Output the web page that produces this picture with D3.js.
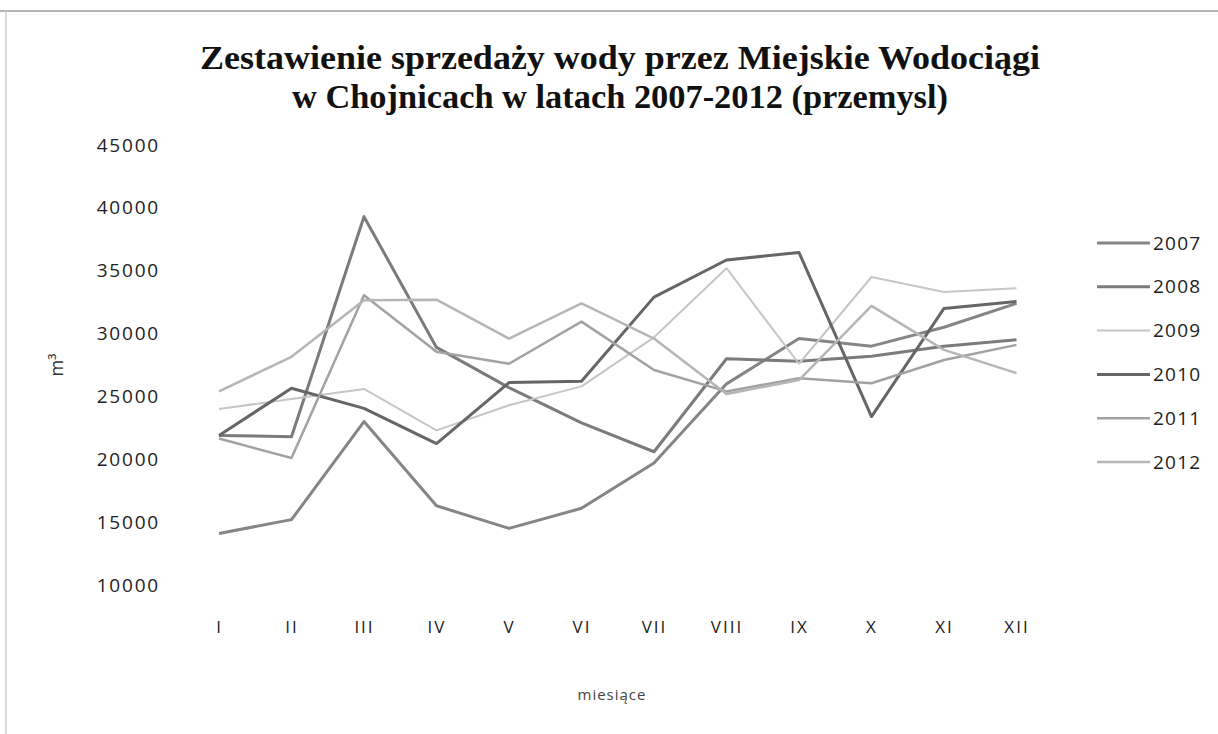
<!DOCTYPE html>
<html>
<head>
<meta charset="utf-8">
<script src="https://cdn.jsdelivr.net/npm/d3@7"></script>
<style>
  body { margin: 0; background: #fff; }
  svg { display: block; }
</style>
</head>
<body>
<svg></svg>
<script>
const WIDTH = 1218;
const HEIGHT = 734;

const months = ["I", "II", "III", "IV", "V", "VI", "VII", "VIII", "IX", "X", "XI", "XII"];
const years = ["2007", "2008", "2009", "2010", "2011", "2012"];
const yTicks = [10000, 15000, 20000, 25000, 30000, 35000, 40000, 45000];

const sales2007 = [14100, 15200, 23000, 16300, 14500, 16100, 19700, 26000, 29600, 29000, 30500, 32400];
const sales2008 = [21900, 21800, 39300, 28900, 25700, 22900, 20600, 28000, 27800, 28200, 29000, 29500];
const sales2009 = [24000, 24800, 25600, 22300, 24300, 25800, 29700, 35200, 27600, 34500, 33300, 33600];
const sales2010 = [21900, 25650, 24050, 21250, 26100, 26200, 32900, 35850, 36450, 23400, 32000, 32550];
const sales2011 = [21650, 20100, 33050, 28550, 27600, 30950, 27100, 25400, 26450, 26050, 27900, 29100];
const sales2012 = [25400, 28150, 32650, 32700, 29600, 32400, 29600, 25200, 26300, 32200, 28700, 26850];

const lineColors = ["#858585", "#7b7b7b", "#c6c6c6", "#666666", "#a2a2a2", "#b6b6b6"];
const lineWidths = [3, 3, 2, 3, 2.5, 2.5];

let xScale, yScale;

function setUpScales() {
  xScale = d3.scalePoint()
    .domain(months)
    .range([182.75, 1052.75])
    .padding(0.5);

  yScale = d3.scaleLinear()
    .domain([10000, 45000])
    .range([585, 145]);
}

function drawFrame($svg) {
  $svg.append("line")
    .attr("x1", 0).attr("x2", WIDTH)
    .attr("y1", 11).attr("y2", 11)
    .attr("stroke", "#b5b5b5")
    .attr("stroke-width", 2);

  $svg.append("line")
    .attr("x1", 6).attr("x2", 6)
    .attr("y1", 11).attr("y2", HEIGHT)
    .attr("stroke", "#cfcfcf")
    .attr("stroke-width", 1.5);
}

function drawTitle($svg) {
  const lines = [
    { text: "Zestawienie sprzedaży wody przez Miejskie Wodociągi", y: 69, len: 840 },
    { text: "w Chojnicach w latach 2007-2012 (przemysl)", y: 108, len: 656 }
  ];

  $svg.selectAll("text.title")
    .data(lines)
    .enter()
    .append("text")
    .attr("class", "title")
    .attr("x", 620)
    .attr("y", d => d.y)
    .attr("text-anchor", "middle")
    .attr("textLength", d => d.len)
    .attr("lengthAdjust", "spacingAndGlyphs")
    .style("font-family", "'Liberation Serif', 'Times New Roman', serif")
    .style("font-weight", "bold")
    .style("font-size", "33px")
    .style("fill", "#111")
    .text(d => d.text);
}

function setUpAxes($svg) {
  const yAxis = d3.axisLeft(yScale)
    .tickValues(yTicks)
    .tickSize(0)
    .tickPadding(0)
    .tickFormat(d3.format("d"));

  const $y = $svg.append("g")
    .attr("transform", "translate(160,0)")
    .call(yAxis);
  $y.select(".domain").remove();
  $y.selectAll("text")
    .style("font-family", "'Open Sans', sans-serif")
    .style("font-size", "19px")
    .style("letter-spacing", "1.8px")
    .style("fill", "#222");

  const xAxis = d3.axisBottom(xScale)
    .tickSize(0)
    .tickPadding(0);

  const $x = $svg.append("g")
    .attr("transform", "translate(0,621)")
    .call(xAxis);
  $x.select(".domain").remove();
  $x.selectAll("text")
    .style("font-family", "'Open Sans', sans-serif")
    .style("font-size", "17px")
    .style("letter-spacing", "2px")
    .style("fill", "#222");

  $svg.append("text")
    .attr("x", 612)
    .attr("y", 700)
    .attr("text-anchor", "middle")
    .style("font-family", "'Open Sans', sans-serif")
    .style("font-size", "15px")
    .style("letter-spacing", "1px")
    .style("fill", "#444")
    .text("miesiące");

  $svg.append("text")
    .attr("transform", "translate(63,365) rotate(-90)")
    .attr("text-anchor", "middle")
    .style("font-family", "'Open Sans', sans-serif")
    .style("font-size", "18px")
    .style("fill", "#333")
    .text("m³");
}

function drawLines($svg) {
  const series = [sales2007, sales2008, sales2009, sales2010, sales2011, sales2012];

  const line = d3.line()
    .x((d, i) => xScale(months[i]))
    .y(d => yScale(d));

  $svg.selectAll("path.series")
    .data(series)
    .enter()
    .append("path")
    .attr("class", "series")
    .attr("d", d => line(d))
    .attr("fill", "none")
    .attr("stroke", (d, i) => lineColors[i])
    .attr("stroke-width", (d, i) => lineWidths[i])
    .attr("stroke-linejoin", "round");
}

function drawLegend($svg) {
  const $items = $svg.selectAll("g.legend")
    .data(years)
    .enter()
    .append("g")
    .attr("class", "legend")
    .attr("transform", (d, i) => `translate(1097,${243 + i * 43.8})`);

  $items.append("line")
    .attr("x1", 0).attr("x2", 53)
    .attr("stroke", (d, i) => lineColors[i])
    .attr("stroke-width", (d, i) => lineWidths[i]);

  $items.append("text")
    .attr("x", 56)
    .attr("dy", "0.35em")
    .style("font-family", "'Open Sans', sans-serif")
    .style("font-size", "19px")
    .style("letter-spacing", "1.2px")
    .style("fill", "#222")
    .text(d => d);
}

const $svg = d3.select("svg").attr("width", WIDTH).attr("height", HEIGHT);

setUpScales();
drawFrame($svg);
drawTitle($svg);
setUpAxes($svg);
drawLines($svg);
drawLegend($svg);
</script>
</body>
</html>
